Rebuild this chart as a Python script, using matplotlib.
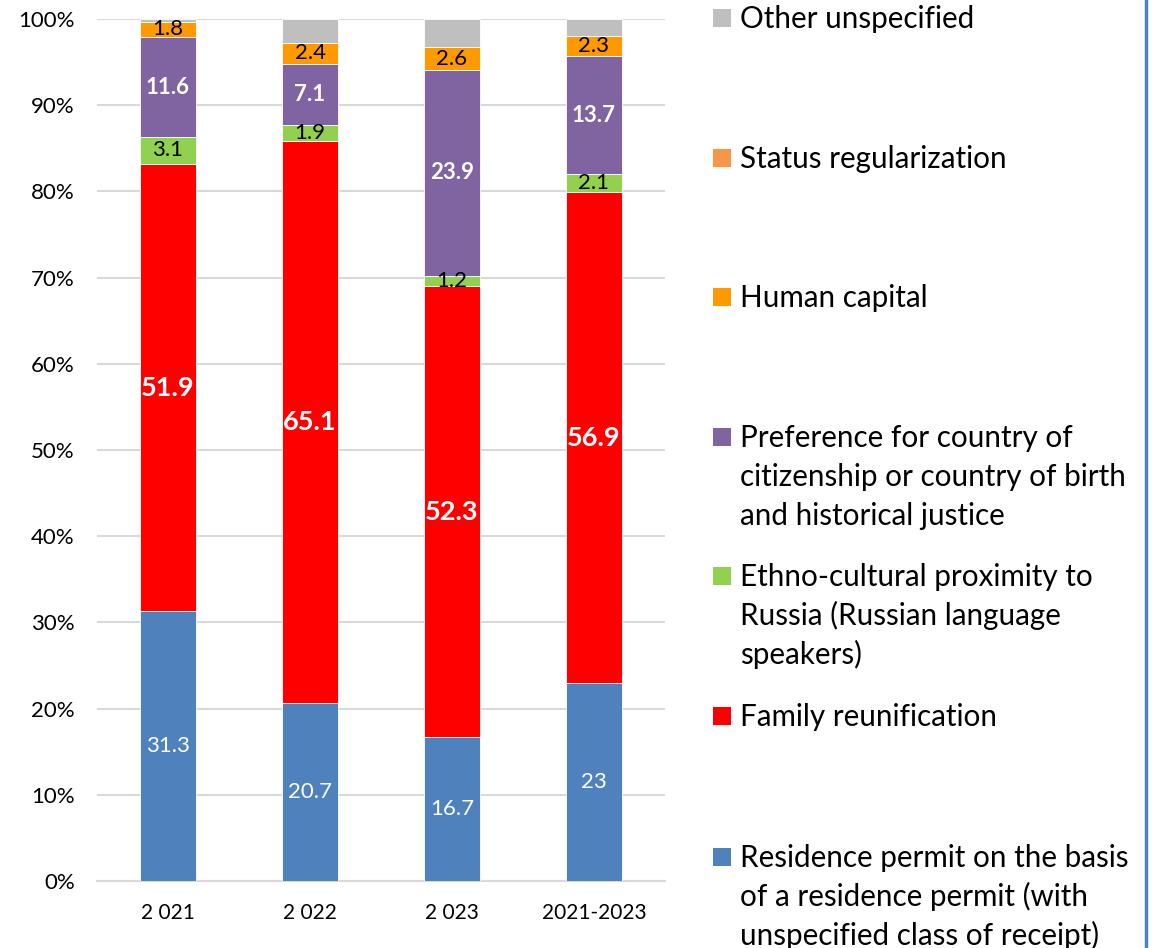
import matplotlib
matplotlib.use("Agg")
import matplotlib.pyplot as plt
from matplotlib.patches import Rectangle
from matplotlib.lines import Line2D
import numpy as np

plt.rcParams['font.family'] = ['Lato', 'DejaVu Sans']

categories = ["2 021", "2 022", "2 023", "2021-2023"]
residence = [31.3, 20.7, 16.7, 23.0]
family = [51.9, 65.1, 52.3, 56.9]
ethno = [3.1, 1.9, 1.2, 2.1]
preference = [11.6, 7.1, 23.9, 13.7]
human = [1.8, 2.4, 2.6, 2.3]
status = [0.0, 0.0, 0.0, 0.0]
other = [0.3, 2.8, 3.3, 2.0]

series_names = [
    "Residence permit on the basis\nof a residence permit (with\nunspecified class of receipt)",
    "Family reunification",
    "Ethno-cultural proximity to\nRussia (Russian language\nspeakers)",
    "Preference for country of\ncitizenship or country of birth\nand historical justice",
    "Human capital",
    "Status regularization",
    "Other unspecified",
]
series_values = [residence, family, ethno, preference, human, status, other]
colors = ["#4F81BD", "#FF0000", "#92D050", "#8064A2", "#FF9900", "#F79646", "#BFBFBF"]
label_style = [
    dict(color="white", fontsize=16, fontweight="normal"),
    dict(color="white", fontsize=19.5, fontweight="bold"),
    dict(color="black", fontsize=16, fontweight="normal"),
    dict(color="white", fontsize=16, fontweight="bold"),
    dict(color="black", fontsize=16, fontweight="normal"),
    None,
    None,
]

W, H = 1155, 948
fig = plt.figure(figsize=(W / 100, H / 100), dpi=100)
ax = fig.add_axes([97 / W, (H - 881) / H, (665 - 97) / W, (881 - 19) / H])

x = np.arange(len(categories))
bottom = np.zeros(len(categories))
for vals, col, st in zip(series_values, colors, label_style):
    v = np.array(vals) / 100.0
    ax.bar(x, v, width=0.4, bottom=bottom, color=col, edgecolor="white",
           linewidth=0.6, zorder=3)
    if st is not None:
        for xi, b, h, raw in zip(x, bottom, v, vals):
            if raw > 0:
                ax.text(xi, b + h / 2, f"{raw:g}", ha="center", va="center",
                        zorder=4, **st)
    bottom = bottom + v

ax.set_xlim(-0.5, len(categories) - 0.5)
ax.set_ylim(0, 1)
yt = np.arange(0, 1.01, 0.1)
ax.set_yticks(yt)
ax.set_yticklabels([f"{int(round(t * 100))}%" for t in yt])
ax.set_xticks(x)
ax.set_xticklabels(categories)
ax.tick_params(axis="y", length=0, pad=16, labelsize=16)
ax.tick_params(axis="x", length=0, pad=16, labelsize=15)
ax.yaxis.grid(True, color="#D9D9D9", linewidth=1.5, zorder=0)
ax.set_axisbelow(True)
for s in ["left", "right", "top"]:
    ax.spines[s].set_visible(False)
ax.spines["bottom"].set_color("#D9D9D9")
ax.spines["bottom"].set_linewidth(1.5)

# Legend (drawn manually to match the spaced Excel layout)
legend_first_line_y = [857, 716, 576, 437, 297, 158, 18]
line_gap = 39
for name, col, y0 in zip(series_names, colors, legend_first_line_y):
    fig.patches.append(Rectangle((713 / W, (H - y0 - 9) / H), 18 / W, 18 / H,
                                 transform=fig.transFigure, facecolor=col,
                                 edgecolor="none"))
    for i, line in enumerate(name.split("\n")):
        yc = y0 + i * line_gap
        fig.text(740 / W, (H - yc - 10) / H, line, ha="left", va="baseline",
                 fontsize=21.3, color="black")

# Right frame line
fig.add_artist(Line2D([1146 / W, 1146 / W], [0, 1], transform=fig.transFigure,
                      color="#4F81BD", linewidth=2.5))

fig.savefig("out.png", dpi=100)
